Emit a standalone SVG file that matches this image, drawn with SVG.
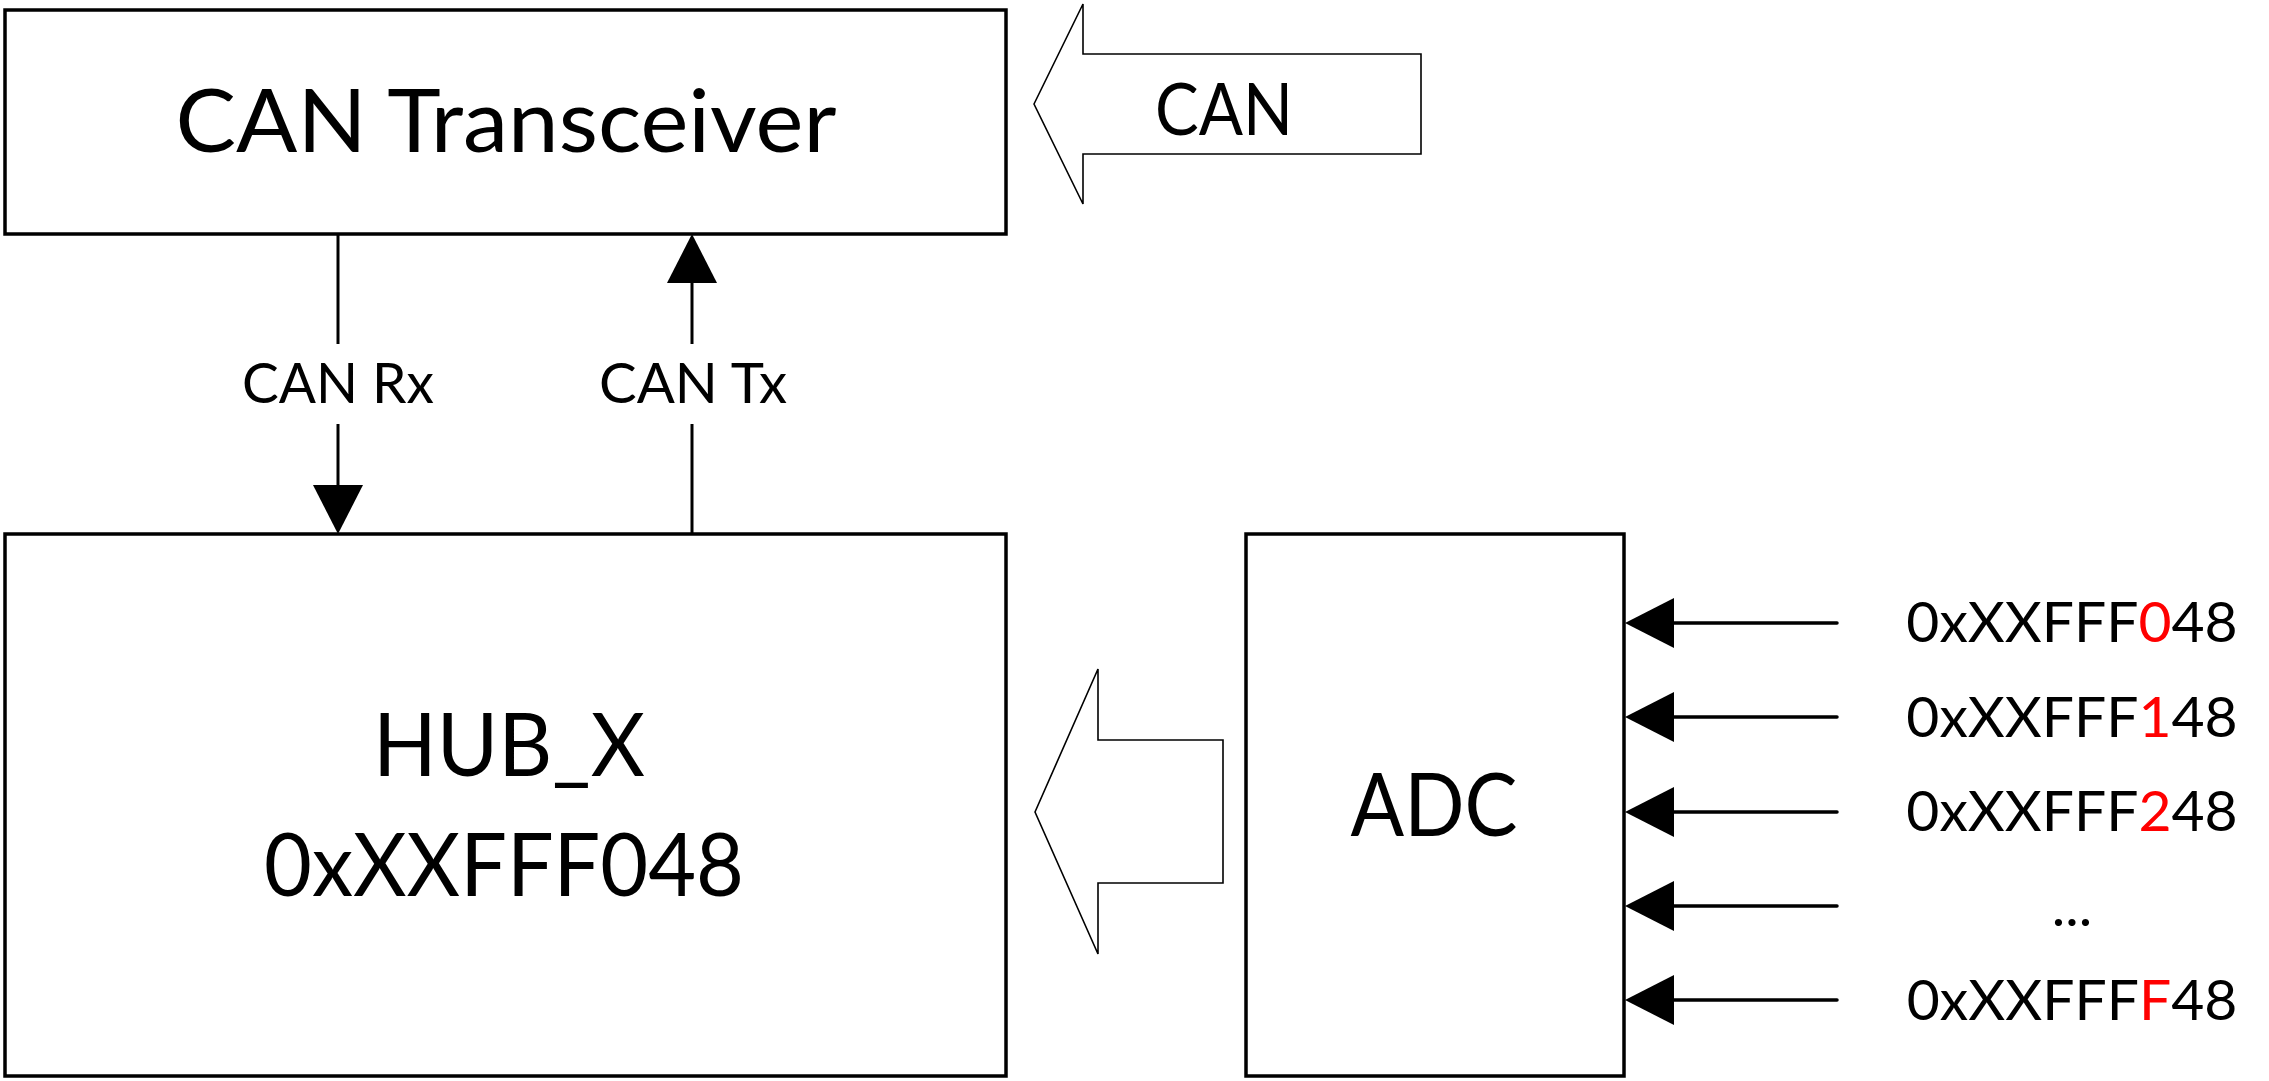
<svg xmlns="http://www.w3.org/2000/svg" width="2269" height="1081" viewBox="0 0 2269 1081">
<style>
.box{fill:#fff;stroke:#000;stroke-width:3.5}
.blk{fill:#fff;stroke:#000;stroke-width:1.6;stroke-linejoin:miter}
.t{font-family:Lato,"Liberation Sans",sans-serif;fill:#000}
.big{font-size:88px}
.sm{font-size:57px}
.red{fill:#ff0000}
.conn{stroke:#000;stroke-width:3;fill:none}
.in{stroke:#000;stroke-width:3.5;fill:none;stroke-linecap:round}
</style>
<defs>
<marker id="ah" markerUnits="userSpaceOnUse" markerWidth="50" markerHeight="50" refX="0" refY="25" orient="auto" overflow="visible">
<path d="M0,0 L49,25 L0,50 Z" fill="#000"/>
</marker>
</defs>
<rect width="2269" height="1081" fill="#fff"/>
<g id="can-transceiver">
<rect class="box" x="5" y="10" width="1001" height="224"/>
<text class="t big" x="506" y="152" text-anchor="middle" textLength="661" lengthAdjust="spacingAndGlyphs">CAN Transceiver</text>
</g>
<g id="can-bus-arrow">
<polygon class="blk" points="1034,104 1083,4 1083,54 1421,54 1421,154 1083,154 1083,204"/>
<text class="t" style="font-size:72px" x="1224" y="135" text-anchor="middle" textLength="138" lengthAdjust="spacingAndGlyphs">CAN</text>
</g>
<g id="hub-x">
<rect class="box" x="5" y="534" width="1001" height="542"/>
<text class="t big" x="509" y="776" text-anchor="middle" textLength="272" lengthAdjust="spacingAndGlyphs">HUB_X</text>
<text class="t big" x="504" y="896" text-anchor="middle" textLength="480" lengthAdjust="spacingAndGlyphs">0xXXFFF048</text>
</g>
<g id="adc-arrow">
<polygon class="blk" points="1035,812 1098,669 1098,740 1223,740 1223,883 1098,883 1098,954"/>
</g>
<g id="adc">
<rect class="box" x="1246" y="534" width="378" height="542"/>
<text class="t big" x="1434" y="836" text-anchor="middle" textLength="167" lengthAdjust="spacingAndGlyphs">ADC</text>
</g>
<g id="connectors">
<line class="conn" x1="338" y1="235" x2="338" y2="344"/>
<line class="conn" x1="338" y1="424" x2="338" y2="485" marker-end="url(#ah)"/>
<line class="conn" x1="692" y1="533" x2="692" y2="424"/>
<line class="conn" x1="692" y1="344" x2="692" y2="283" marker-end="url(#ah)"/>
<line class="in" x1="1837" y1="623" x2="1674" y2="623" marker-end="url(#ah)"/>
<line class="in" x1="1837" y1="717" x2="1674" y2="717" marker-end="url(#ah)"/>
<line class="in" x1="1837" y1="812" x2="1674" y2="812" marker-end="url(#ah)"/>
<line class="in" x1="1837" y1="906" x2="1674" y2="906" marker-end="url(#ah)"/>
<line class="in" x1="1837" y1="1000" x2="1674" y2="1000" marker-end="url(#ah)"/>
</g>
<g id="labels">
<text class="t sm" x="338" y="403" text-anchor="middle" textLength="192" lengthAdjust="spacingAndGlyphs">CAN Rx</text>
<text class="t sm" x="693" y="403" text-anchor="middle" textLength="188" lengthAdjust="spacingAndGlyphs">CAN Tx</text>
<text class="t sm" x="2072" y="642" text-anchor="middle">0xXXFFF<tspan class="red">0</tspan>48</text>
<text class="t sm" x="2072" y="737" text-anchor="middle">0xXXFFF<tspan class="red">1</tspan>48</text>
<text class="t sm" x="2072" y="831" text-anchor="middle">0xXXFFF<tspan class="red">2</tspan>48</text>
<text class="t sm" x="2072" y="926" text-anchor="middle">...</text>
<text class="t sm" x="2072" y="1020" text-anchor="middle">0xXXFFF<tspan class="red">F</tspan>48</text>
</g>
</svg>
